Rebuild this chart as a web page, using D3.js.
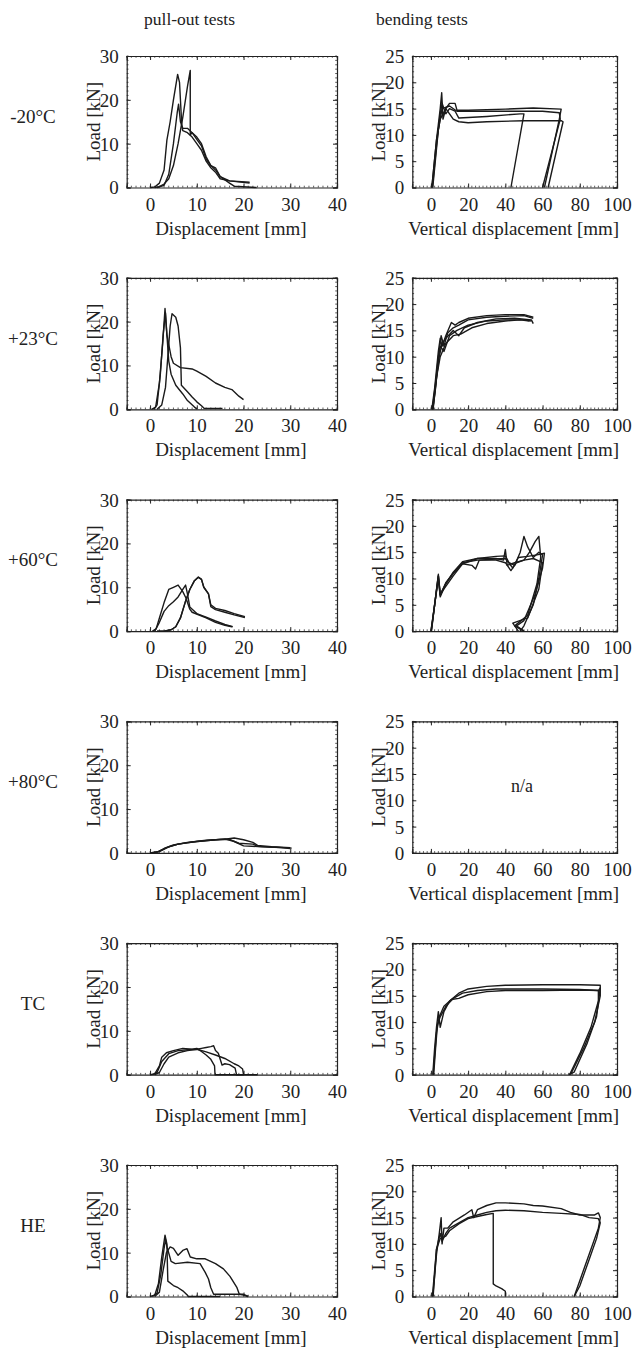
<!DOCTYPE html>
<html>
<head>
<meta charset="utf-8">
<script src="https://cdn.jsdelivr.net/npm/d3@7"></script>
<style>
  body { margin: 0; background: #fff; }
  svg, svg text { font-family: "Liberation Serif", "Times New Roman", Times, serif; }
  svg text { fill: #222; }
</style>
</head>
<body>
<div id="chart"></div>
<script>
// row labels and column titles
var rowLabels = ['-20\u00B0C', '+23\u00B0C', '+60\u00B0C', '+80\u00B0C', 'TC', 'HE'];
var colTitles = ['pull-out tests', 'bending tests'];

// axis ticks
var pullXTicks = [0, 10, 20, 30, 40];
var pullYTicks = [0, 10, 20, 30];
var bendXTicks = [0, 20, 40, 60, 80, 100];
var bendYTicks = [0, 5, 10, 15, 20, 25];

// pull-out curves, [displacement mm, load kN]
var pullM20 = [
  [[0,0],[1,0.1],[2,1],[3,4],[3.6,10.8],[4.3,15],[5,20],[5.9,25.8],[6.3,24],[6.8,13.9],[7,13],[8,12.5],[9,11.5],[10,10],[11,8.5],[12,6],[13,4.5],[14,3.5],[15,2],[17,1.5],[21.3,1]],
  [[1,0],[2,0.2],[3,0.8],[4,2],[5,5],[6,10],[7,16],[8,23],[8.6,26.7],[8.6,12],[9,12.5],[10,11.5],[11,10],[12,7],[13,5],[14,4],[15,2.5],[17,1.5],[21.3,1.2]],
  [[1.5,0],[3,0.5],[4,3],[5,10],[5.8,17],[6.1,19],[6.5,15],[7,13.5],[8,13.5],[9,12.5],[10,11],[11,9.5],[12,6.5],[13,5],[14,4.5],[15,2.5],[17,1],[18,0.3],[22.8,0]]
];
var pullP23 = [
  [[0.3,0],[1.2,0.5],[2,6],[2.7,15],[3.2,23],[3.6,17],[4,11],[4.5,8],[5.5,5.5],[7,3.5],[8,2],[9.5,0.5],[10,0.1]],
  [[0.8,0],[1.5,1],[2.2,8],[2.8,17],[3.3,22],[3.6,17],[4.5,12],[5,10.5],[6.5,9.5],[9,9.2],[10,8.7],[12,7.5],[14,6],[16,5],[17.5,4.5],[19,3],[20,2.2]],
  [[1.5,0],[2.5,1],[3.3,5],[3.8,12],[4.3,19],[4.7,21.8],[5.5,21],[6,19],[6.5,14],[6.7,5.5],[8,4],[9,2.8],[10,1.7],[11,0.8],[11.6,0.2],[15.5,0.2]]
];
var pullP60 = [
  [[0.5,0],[1.3,0.5],[2,3],[3,6.5],[4,9.5],[5,10],[6,10.5],[7,9],[7.7,7.5],[8.5,5],[9,4.3],[12,3],[14,2],[16,1.3],[17.5,1]],
  [[1,0],[2,2],[3,4.5],[4,5.8],[5,6.7],[6,7.8],[7,9.5],[7.6,10.5],[8,8.5],[8.5,5.5],[10,4],[12,3.2],[14,2.3],[16,1.5],[17.7,1]],
  [[1.5,0],[3,0],[4.5,0.3],[5.5,1],[6.5,3],[7.5,6.5],[8.5,9.5],[9.5,11.5],[10.3,12.3],[11,11.8],[11.5,10],[12.5,8.5],[13,6],[14,5.2],[16,4.7],[18,4],[20.3,3.3]],
  [[1.5,0],[3,0],[4.5,0.3],[5.5,1],[6.5,3],[7.5,6.5],[8.5,9.5],[9.5,11.5],[10.3,12.3],[11,11.8],[11.5,10],[12.5,8.5],[13,5.6],[14,4.9],[16,4.3],[18,3.7],[20.3,3.1]]
];
var pullP80 = [
  [[0,0],[1.5,0.2],[3,1],[5,1.8],[8,2.4],[12,2.9],[16,3.1],[18,3.4],[20,3],[22,2.4],[23,1.7],[26,1.4],[30,1.2]],
  [[0.5,0],[2,0.3],[4,1.4],[6,2],[9,2.5],[13,2.9],[16,3.2],[18,2.6],[20,1.6],[24,1.4],[28,1.2],[30,1]],
  [[0,0],[1.8,0.3],[3.5,1.2],[6,2],[10,2.6],[14,3],[17,3.1],[19,2.2],[22,2],[23,1.5],[27,1.3],[30.3,1.1]]
];
var pullTC = [
  [[0,0],[1,0.2],[2,2],[2.5,4],[3.5,5],[5,5.5],[7,6],[9,5.8],[10,6],[11,5.3],[12,4.5],[13,3.5],[13.8,2],[13.9,0],[20,0]],
  [[0.5,0],[1.5,0.5],[2.5,3],[4,4.8],[6,5.5],[8,5.7],[10,5.8],[12,5.2],[14,4.5],[16,3.7],[18,2.5],[19,2],[19.8,1.3],[20,0],[23,0]],
  [[1,0],[2,0.5],[3,2.5],[4,4],[6,5],[8,5.5],[10,5.8],[11,6],[12,6.2],[13,6.4],[13.6,6.6],[14,5.5],[14.6,4.9],[15.4,2.2],[16,2.5],[17,2.3],[18.2,1.5],[18.5,0],[20,0]]
];
var pullHE = [
  [[0,0],[1,0.3],[1.8,3],[2.5,9],[3.2,14],[3.6,12],[3.8,3.5],[5,2.5],[6,2],[7,1.3],[8,0.3],[8.2,0],[15,0]],
  [[0.5,0],[1.5,0.8],[2.3,5],[3,11],[3.3,13],[3.7,11],[4.5,8],[5.4,7.5],[8,7.8],[10.7,7.5],[11.8,5.5],[12.5,4],[13,2],[13.6,0.5],[20,0.5],[21,0]],
  [[1,0],[2,1],[2.8,6],[3.5,10],[4.3,11.3],[5,11],[6,9.4],[7,10.5],[7.9,10.9],[8.6,9],[10,8.6],[11.8,8.6],[14,7.5],[15.7,6.3],[17.1,4.6],[18.6,2],[19.1,0.5],[20,0.3],[21,0]]
];

// bending curves, [vertical displacement mm, load kN]
var bendM20 = [
  [[0.5,0],[3,9],[5,15],[5.8,18],[6.5,13],[8,15],[10,16],[13,16],[14,14.7],[20,14.7],[40,14.9],[55,15.1],[70,14.9],[69,13],[61,0]],
  [[0.8,0],[3,8],[5,14],[6,16],[8,14],[10,15],[13,14.5],[15,13.2],[20,13.3],[30,13.5],[48,14],[50,14],[43,0]],
  [[0.5,0],[3,9],[5,13],[8,15],[12,13],[15,12.5],[20,12.3],[30,12.5],[50,12.7],[70,12.7],[71,12.5],[63,0]],
  [[1,0],[4,11],[6,15],[10,15.5],[14,14.5],[20,14.5],[40,14.5],[60,14.5],[69,14.2],[69.5,13],[60,0]]
];
var bendP23 = [
  [[0.5,0],[2,4],[4,11],[5,13.5],[6,12],[8,14],[11,16.5],[13,16],[15,16.5],[20,17.3],[30,17.8],[40,18],[50,18],[55,17.5]],
  [[1,0],[2.5,4],[4.5,11],[5.5,14],[7,12],[9,14.5],[12,15.5],[15,16],[20,17],[30,17.5],[40,17.7],[50,17.8],[55,17.3]],
  [[1,0],[3,6],[4.5,10],[6,12.5],[8,13.5],[12,15],[15,14],[18,15.5],[25,16.5],[35,17.2],[45,17.3],[54,17],[55,16.3]],
  [[0.8,0],[2.5,5],[4,10],[5,12],[7,11],[10,14],[14,15],[20,16],[30,16.8],[40,17],[50,17],[54,16.8]],
  [[1.2,0],[3,6],[5,10],[8,12.5],[12,14],[16,14.3],[22,15.5],[30,16.3],[40,16.8],[48,17],[53,16.8]]
];
var bendP60 = [
  [[0,0],[2,5],[4,10.8],[5,7],[8,8.5],[12,10.5],[17,12.8],[25,13.8],[35,14.2],[40,14.3],[42,13],[45,12.5],[48,15],[50,18],[52,16],[55,14],[58,15],[60,14.5],[58,10],[55,5],[50,1],[48,0]],
  [[0.2,0],[2,5],[4,10],[5,6.5],[8,9],[12,11],[17,13],[25,13.5],[35,13.5],[40,13],[43,11.5],[46,13],[50,13.5],[53,15],[56,17],[58,18],[59,14],[57,9],[52,3],[45,1],[50,0]],
  [[0.1,0],[2,5],[4,10.5],[5,6.8],[8,9.2],[12,11],[17,12.8],[22,12.5],[24,11.8],[26,13.5],[35,13.7],[40,13.8],[44,12],[47,14],[52,14.2],[57,14.5],[61,14.8],[60,12],[56,7],[50,2],[46,1],[50,0]],
  [[0.3,0],[2,5],[4,10.5],[5,7],[8,9],[12,11.2],[17,13.2],[25,13.8],[35,13.8],[39,13.5],[40,15.5],[41,12.5],[45,13],[50,13.5],[55,13.8],[60,13],[58,8],[52,2.5],[44,1.5],[47,0]]
];
var bendP80 = [];
var bendTC = [
  [[1,0],[2,5],[3,9],[4,12],[5,9],[7,12],[10,14],[15,15.5],[20,16.3],[30,16.8],[40,17],[60,17.1],[80,17.1],[91,17],[91,15],[88,10],[82,5],[75,0]],
  [[1.5,0],[2.5,5],[3.5,9.5],[5,11],[8,13],[12,14.5],[17,15.5],[25,16],[35,16.3],[60,16.3],[80,16.2],[90,16],[91,16.5],[89,11],[84,6],[77,0.5],[74,0]],
  [[1.2,0],[3,8],[4.5,11],[7,13],[11,14.3],[15,14.5],[20,15.2],[30,15.8],[40,16],[60,16],[80,16.1],[90,16],[90,14],[86,9],[80,4],[74.5,0]]
];
var bendHE = [
  [[1,0],[3,8],[4.5,12],[5.5,15],[6,10],[7,13],[9,13],[12,14.2],[18,15.5],[22,16.5],[23,15],[25,16.5],[30,17.3],[35,17.8],[40,17.8],[50,17.6],[55,17.3],[60,17.2],[70,16.7],[75,16],[80,15.5],[88,15.5],[90,15.9],[91,15],[90,13],[87,10],[80,3],[77,0]],
  [[1.2,0],[3,9],[5,12],[6,10.5],[8,12],[10,13],[15,14],[20,15],[25,15.5],[30,16],[35,16.3],[40,16.4],[50,16.3],[60,16],[70,15.8],[80,15.6],[85,15],[90,14.8],[91,14],[89,11],[85,7],[80,2],[77,0]],
  [[0.8,0],[3,9],[5,11],[8,11.5],[10,12.5],[15,13.8],[20,14.8],[25,15.2],[30,15.6],[33.5,15.8],[33.5,2.4],[35,2],[38,1.5],[40,1],[40,0]]
];

var pullData = [pullM20, pullP23, pullP60, pullP80, pullTC, pullHE];
var bendData = [bendM20, bendP23, bendP60, bendP80, bendTC, bendHE];

var W = 635, H = 1348;
var svg = d3.select('#chart').append('svg').attr('width', W).attr('height', H);

var top0 = 56, rowStep = 221.8, ph = 131.5;
var cols = [
  {x0: 126.7, x1: 337, xDom: [-5, 40], yDom: [0, 30], xt: pullXTicks, yt: pullYTicks, xMinor: 1, yMinor: 1, xlab: 'Displacement [mm]', data: pullData},
  {x0: 412.3, x1: 617, xDom: [-10, 100], yDom: [0, 25], xt: bendXTicks, yt: bendYTicks, xMinor: 2, yMinor: 1, xlab: 'Vertical displacement [mm]', data: bendData}
];

// column titles
svg.append('text').attr('x', 189.5).attr('y', 25).attr('text-anchor', 'middle')
  .style('font-size', '17.5px').text(colTitles[0]);
svg.append('text').attr('x', 422).attr('y', 25).attr('text-anchor', 'middle')
  .style('font-size', '17.5px').text(colTitles[1]);

rowLabels.forEach(function(lab, r) {
  var y0 = top0 + r * rowStep;
  svg.append('text').attr('x', 33).attr('y', y0 + ph / 2 + 1).attr('text-anchor', 'middle')
    .style('font-size', '19px').text(lab);

  cols.forEach(function(c) {
    var x = d3.scaleLinear().domain(c.xDom).range([c.x0, c.x1]);
    var y = d3.scaleLinear().domain(c.yDom).range([y0 + ph, y0]);
    var g = svg.append('g');

    // minor ticks on all sides
    var xm = d3.range(c.xDom[0], c.xDom[1] + 0.001, c.xMinor);
    var ym = d3.range(c.yDom[0], c.yDom[1] + 0.001, c.yMinor);
    g.selectAll('.mx').data(xm).enter().append('path')
      .attr('d', function(d) { var px = x(d); return 'M' + px + ',' + (y0 + ph) + 'v-1.8M' + px + ',' + y0 + 'v1.8'; })
      .attr('stroke', '#333').attr('stroke-width', 0.8);
    g.selectAll('.my').data(ym).enter().append('path')
      .attr('d', function(d) { var py = y(d); return 'M' + c.x0 + ',' + py + 'h1.8M' + c.x1 + ',' + py + 'h-1.8'; })
      .attr('stroke', '#333').attr('stroke-width', 0.8);

    // axes with inward major ticks
    var xa = g.append('g').attr('transform', 'translate(0,' + (y0 + ph) + ')')
      .call(d3.axisBottom(x).tickValues(c.xt).tickSize(-4).tickPadding(8));
    var ya = g.append('g').attr('transform', 'translate(' + c.x0 + ',0)')
      .call(d3.axisLeft(y).tickValues(c.yt).tickSize(-4).tickPadding(8));
    g.append('g').attr('transform', 'translate(0,' + y0 + ')')
      .call(d3.axisTop(x).tickValues(c.xt).tickSize(-4).tickFormat(''));
    g.append('g').attr('transform', 'translate(' + c.x1 + ',0)')
      .call(d3.axisRight(y).tickValues(c.yt).tickSize(-4).tickFormat(''));
    g.selectAll('g').attr('font-family', null).attr('font-size', null);
    g.selectAll('.domain').attr('stroke', '#222').attr('stroke-width', 1.2);
    g.selectAll('.tick line').attr('stroke', '#222');
    g.selectAll('.tick text').style('font-size', '19px').attr('fill', '#222');
    xa.selectAll('.tick text').attr('dy', '0.8em');
    ya.selectAll('.tick text').attr('dy', '0.34em');

    // axis titles
    g.append('text').attr('x', (c.x0 + c.x1) / 2 - 1).attr('y', y0 + ph + 47)
      .attr('text-anchor', 'middle').style('font-size', '19px').text(c.xlab);
    g.append('text')
      .attr('transform', 'translate(' + (c.x0 - 27) + ',' + (y0 + ph / 2) + ') rotate(-90)')
      .attr('text-anchor', 'middle').style('font-size', '19px').text('Load [kN]');

    var line = d3.line().x(function(d) { return x(d[0]); }).y(function(d) { return y(d[1]); });
    var series = c.data[r];
    g.selectAll('.curve').data(series).enter().append('path')
      .attr('d', line).attr('fill', 'none').attr('stroke', '#1a1a1a')
      .attr('stroke-width', 1.4).attr('stroke-linejoin', 'round');

    if (series.length === 0) {
      g.append('text').attr('x', 522).attr('y', y0 + ph / 2 + 5)
        .attr('text-anchor', 'middle').style('font-size', '18px').text('n/a');
    }
  });
});
</script>
</body>
</html>
